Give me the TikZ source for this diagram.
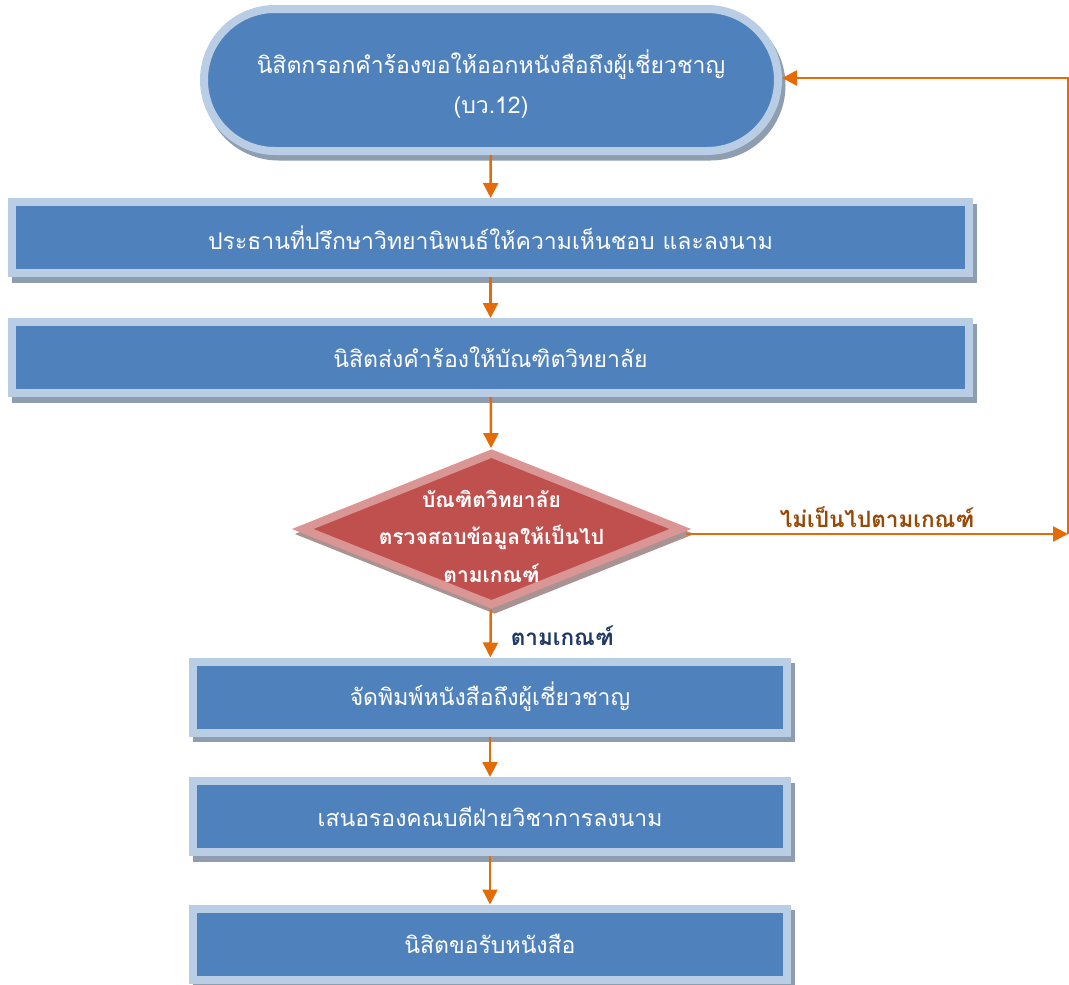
\documentclass[tikz,border=0pt]{standalone}
\usepackage{fontspec}
\newfontfamily\thaifont[Script=Thai]{Loma}
\usetikzlibrary{shapes.geometric,shapes.misc,arrows.meta,shadows}

\definecolor{boxfill}{HTML}{4F81BD}
\definecolor{boxrim}{HTML}{B9CDE5}
\definecolor{boxshade}{HTML}{8E9DAF}
\definecolor{decfill}{HTML}{C0504D}
\definecolor{decrim}{HTML}{D99694}
\definecolor{decshade}{HTML}{A99392}
\definecolor{flow}{HTML}{E36C09}
\definecolor{nolabel}{HTML}{984807}
\definecolor{yeslabel}{HTML}{1F3864}

\tikzset{
  thai/.style={font=\thaifont\fontsize{23}{40}\selectfont},
  rimmed/.style={fill=boxfill, draw=boxrim, line width=8pt, text=white,
    thai, align=center, inner sep=0pt,
    drop shadow={shadow xshift=3.5pt, shadow yshift=-5.5pt,
      fill=boxshade, draw=boxshade, opacity=1}},
  widebox/.style={rimmed, rectangle, minimum width=957pt, minimum height=71pt},
  narrowbox/.style={rimmed, rectangle, minimum width=594pt, minimum height=71pt},
  startbox/.style={rimmed, rounded rectangle, minimum width=574pt, minimum height=142pt},
  decision/.style={diamond, fill=decfill, draw=decrim, line width=8pt, inner sep=0pt,
    minimum width=381pt, minimum height=154pt,
    drop shadow={shadow xshift=3pt, shadow yshift=-5pt,
      fill=decshade, draw=decshade, opacity=1}},
  dectext/.style={text=white, font=\thaifont\bfseries\fontsize{21}{37.5}\selectfont,
    align=center, inner sep=0pt},
  flowarrow/.style={draw=flow, line width=2.5pt,
    -{Triangle[width=15pt,length=15pt]}},
  branch/.style={font=\thaifont\bfseries\fontsize{22.5}{26}\selectfont, inner sep=2pt},
}

\begin{document}
\begin{tikzpicture}[x=1pt, y=-1pt]
  \useasboundingbox (0,0) rectangle (1069,985);

  % process steps
  \node[startbox] (start) at (491,80) {};
  \node[text=white, thai, align=center, inner sep=0pt, yshift=-4pt] (starttext) at (start.center)
    {นิสิตกรอกคำร้องขอให้ออกหนังสือถึงผู้เชี่ยวชาญ\\(บว.12)};
  \node[widebox] (advisor) at (490.5,237.5)
    {ประธานที่ปรึกษาวิทยานิพนธ์ให้ความเห็นชอบ และลงนาม};
  \node[widebox] (submit) at (490.5,357.5)
    {นิสิตส่งคำร้องให้บัณฑิตวิทยาลัย};
  \node[decision] (check) at (491.5,529) {};
  \node[dectext, yshift=-7pt] (checktext) at (check.center)
    {บัณฑิตวิทยาลัย\\ตรวจสอบข้อมูลให้เป็นไป\\ตามเกณฑ์};
  \node[narrowbox] (print) at (490,697)
    {จัดพิมพ์หนังสือถึงผู้เชี่ยวชาญ};
  \node[narrowbox] (sign) at (490,816.5)
    {เสนอรองคณบดีฝ่ายวิชาการลงนาม};
  \node[narrowbox] (collect) at (490,944)
    {นิสิตขอรับหนังสือ};

  % return path along the right edge
  \coordinate (exit) at ([yshift=-5pt]check.east);
  \coordinate (edge) at (1068,0);
  \coordinate (turn) at (exit -| edge);

  % connectors
  \draw[flowarrow] (start) -- (advisor);
  \draw[flowarrow] (advisor) -- (submit);
  \draw[flowarrow] (submit) -- (check);
  \draw[flowarrow] (check) -- node[branch, text=yeslabel, right=17pt, yshift=-2pt] (yes) {ตามเกณฑ์} (print);
  \draw[flowarrow] (print) -- (sign);
  \draw[flowarrow] (sign) -- (collect);
  \draw[flowarrow] (exit) -- node[branch, text=nolabel, above=3pt] (no) {ไม่เป็นไปตามเกณฑ์} (turn);
  \draw[flowarrow] (turn) |- ([yshift=2pt]start.east);
\end{tikzpicture}
\end{document}
